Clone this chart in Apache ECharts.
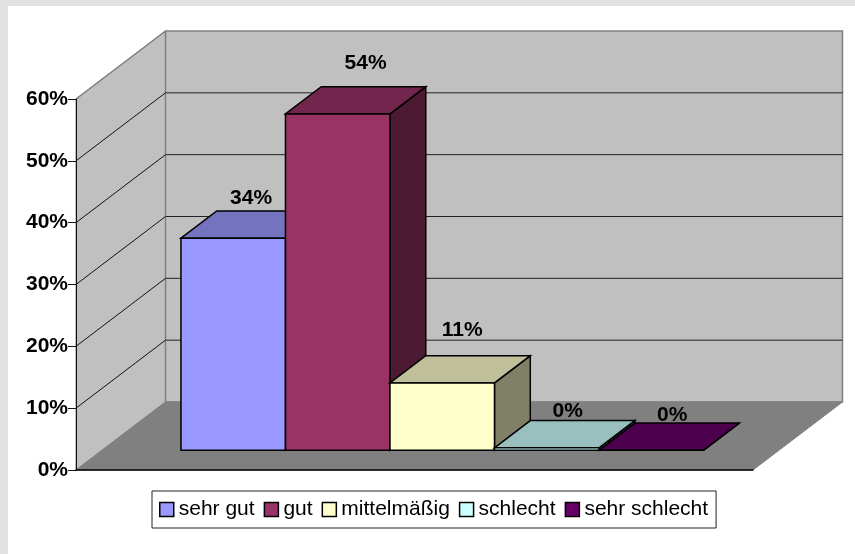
<!DOCTYPE html>
<html>
<head>
<meta charset="utf-8">
<style>
html, body { margin: 0; padding: 0; background: #e2e2e2; }
#panel { position: absolute; left: 8px; top: 6px; width: 847px; height: 548px; background: #fff; }
#main { position: absolute; left: 0; top: 0; width: 855px; height: 554px; }
</style>
<script src="https://cdn.jsdelivr.net/npm/echarts@6/dist/echarts.min.js"></script>
</head>
<body>
<div id="panel"></div>
<div id="main"></div>
<script>
// Werte
var names = ["sehr gut", "gut", "mittelmäßig", "schlecht", "sehr schlecht"];
var values = [34.3, 54.4, 10.9, 0.4, 0];
var yTicks = [0, 10, 20, 30, 40, 50, 60];

var frontColors = ["#9999ff", "#993366", "#ffffcc", "#ccffff", "#660066"];
var topColors = ["#7373bf", "#73264d", "#bfbf99", "#99bfbf", "#4d004d"];
var sideColors = ["#4d4d80", "#4d1a33", "#808066", "#668080", "#330033"];
var labelLift = [13, 24, 25, 9, 8];
var labelShift = [0, 10, 2, 3, 3];

// 3D-Versatz der Wand und Lage der Saeulen in der Tiefe
var depthX = 89.5;
var depthY = 68;
var barFront = 0.29;
var barBack = 0.69;
var xMin = -0.756;
var xMax = 5.722;
var font = "Liberation Sans";

function at(api, x, v, d) {
    var p = api.coord([x, v]);
    return [p[0] + d * depthX, p[1] - d * depthY];
}

function poly(points, fill, stroke, width) {
    return {
        type: "polygon",
        shape: { points: points },
        style: { fill: fill, stroke: stroke, lineWidth: width }
    };
}

function line(a, b, color, width) {
    return {
        type: "line",
        shape: { x1: a[0], y1: a[1], x2: b[0], y2: b[1] },
        style: { stroke: color, lineWidth: width }
    };
}

function renderWalls(params, api) {
    var top = yTicks[yTicks.length - 1];
    var children = [
        // Seitenwand
        poly([at(api, xMin, 0, 0), at(api, xMin, top, 0), at(api, xMin, top, 1), at(api, xMin, 0, 1)], "#c0c0c0", "#808080", 1),
        // Rueckwand
        poly([at(api, xMin, 0, 1), at(api, xMin, top, 1), at(api, xMax, top, 1), at(api, xMax, 0, 1)], "#c0c0c0", "#808080", 1.5),
        // Boden
        poly([at(api, xMin, 0, 0), at(api, xMin, 0, 1), at(api, xMax, 0, 1), at(api, xMax, 0, 0)], "#808080", "#808080", 1)
    ];
    for (var i = 1; i < yTicks.length - 1; i++) {
        children.push(line(at(api, xMin, yTicks[i], 0), at(api, xMin, yTicks[i], 1), "#111", 1));
        children.push(line(at(api, xMin, yTicks[i], 1), at(api, xMax, yTicks[i], 1), "#222", 1));
    }
    children.push(line(at(api, xMin, top, 0), at(api, xMin, top, 1), "#808080", 1.5));
    return { type: "group", children: children };
}

function renderBar(params, api) {
    var i = api.value(0);
    var v = api.value(1);
    var x0 = i, x1 = i + 1;
    var children = [];
    // Seite, Deckel, Vorderseite
    children.push(poly([at(api, x1, 0, barFront), at(api, x1, v, barFront), at(api, x1, v, barBack), at(api, x1, 0, barBack)], sideColors[i], "#000", 1.5));
    children.push(poly([at(api, x0, v, barFront), at(api, x0, v, barBack), at(api, x1, v, barBack), at(api, x1, v, barFront)], topColors[i], "#000", 1.5));
    children.push(poly([at(api, x0, 0, barFront), at(api, x0, v, barFront), at(api, x1, v, barFront), at(api, x1, 0, barFront)], frontColors[i], "#000", 1.5));
    var mid = at(api, i + 0.5, v, barBack);
    var front = at(api, i + 0.5, v, barFront);
    children.push({
        type: "text",
        style: {
            text: Math.round(v) + "%",
            x: (mid[0] + front[0]) / 2 + labelShift[i],
            y: mid[1] - labelLift[i],
            align: "center",
            verticalAlign: "middle",
            fill: "#000",
            font: "bold 21px '" + font + "'"
        }
    });
    return { type: "group", children: children };
}

var series = [{
    type: "custom",
    name: "walls",
    silent: true,
    renderItem: renderWalls,
    data: [[0, 0]],
    encode: { x: 0, y: 1 }
}];
for (var i = 0; i < names.length; i++) {
    series.push({
        type: "custom",
        name: names[i],
        silent: true,
        renderItem: renderBar,
        itemStyle: { color: frontColors[i] },
        data: [[i, values[i]]],
        encode: { x: 0, y: 1 }
    });
}

var chart = echarts.init(document.getElementById("main"), null, { renderer: "canvas" });
chart.setOption({
    animation: false,
    backgroundColor: "transparent",
    grid: { left: 76, right: 102, top: 99, bottom: 84 },
    xAxis: {
        type: "value",
        min: xMin,
        max: xMax,
        z: 5,
        splitLine: { show: false },
        axisTick: { show: false },
        axisLabel: { show: false },
        axisLine: { show: true, onZero: false, lineStyle: { color: "#000", width: 1.5 } }
    },
    yAxis: {
        type: "value",
        min: yTicks[0],
        max: yTicks[yTicks.length - 1],
        interval: 10,
        z: 5,
        splitLine: { show: false },
        axisLine: { show: true, onZero: false, lineStyle: { color: "#111", width: 1 } },
        axisTick: { show: true, length: 8, lineStyle: { color: "#111", width: 1 } },
        axisLabel: {
            margin: 8,
            formatter: "{value}%",
            color: "#000",
            fontFamily: font,
            fontWeight: "bold",
            fontSize: 21
        }
    },
    legend: {
        data: names,
        left: 152,
        top: 491,
        orient: "horizontal",
        selectedMode: false,
        icon: "rect",
        itemWidth: 14,
        itemHeight: 14,
        itemGap: 9,
        padding: [8, 8, 8, 7],
        backgroundColor: "#fff",
        borderColor: "#222",
        borderWidth: 1,
        itemStyle: { borderColor: "#000", borderWidth: 1.5 },
        textStyle: { color: "#000", fontFamily: font, fontSize: 21, lineHeight: 21 }
    },
    series: series
});
</script>
</body>
</html>
